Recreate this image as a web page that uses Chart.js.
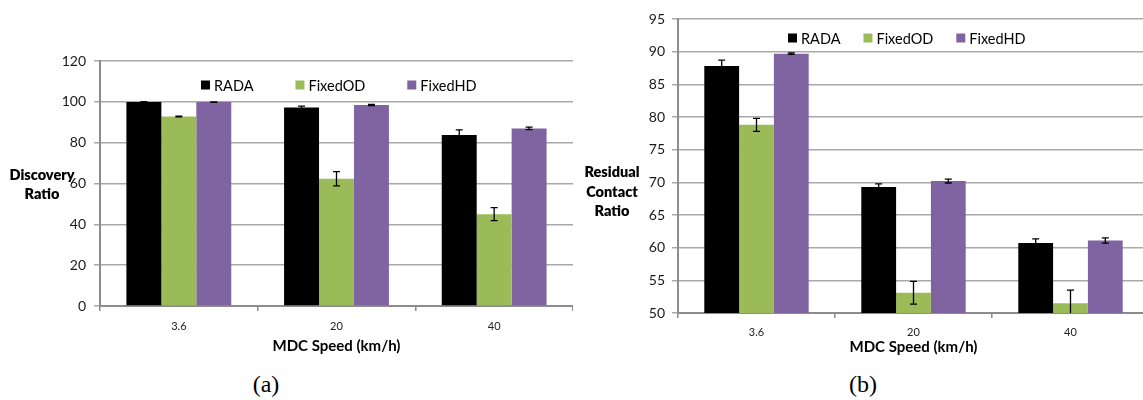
<!DOCTYPE html>
<html>
<head>
<meta charset="utf-8">
<title>MDC speed comparison</title>
<script src="https://cdn.jsdelivr.net/npm/chart.js@4.4.1/dist/chart.umd.min.js"></script>
<style>
  body {
    margin: 0;
    width: 1143px;
    height: 400px;
    overflow: hidden;
    background: #fff;
    position: relative;
    font-family: Lato, sans-serif;
  }
  canvas { position: absolute; top: 0; }
  .ytitle {
    position: absolute;
    font: 800 14.5px Lato, sans-serif;
    line-height: 19px;
    text-align: center;
    color: #000;
  }
  .caption {
    position: absolute;
    width: 80px;
    text-align: center;
    font: 24px "Liberation Serif", serif;
    line-height: 26px;
    color: #000;
  }
</style>
</head>
<body>
<canvas id="chartA" width="573" height="360" style="left:0"></canvas>
<canvas id="chartB" width="575" height="366" style="left:574px"></canvas>
<div class="ytitle" style="left:2px; top:165px; width:80px">Discovery<br>Ratio</div>
<div class="ytitle" style="left:567px; top:162px; width:90px; line-height:19.5px">Residual<br>Contact<br>Ratio</div>
<div class="caption" style="left:226px; top:371px">(a)</div>
<div class="caption" style="left:823px; top:371px">(b)</div>

<script>
// --- categories and series ---
const speeds = ['3.6', '20', '40'];
const seriesNames = ['RADA', 'FixedOD', 'FixedHD'];

// (a) discovery ratio, with +/- error
const discoveryRada = [99.9, 97.2, 83.8];
const discoveryRadaErr = [0.2, 0.7, 2.5];
const discoveryFixedOD = [92.8, 62.3, 45.0];
const discoveryFixedODErr = [0.2, 3.5, 3.2];
const discoveryFixedHD = [99.9, 98.4, 87.0];
const discoveryFixedHDErr = [0.1, 0.3, 0.6];
const discoveryTicks = [0, 20, 40, 60, 80, 100, 120];

// (b) residual contact ratio, with +/- error
const residualRada = [87.8, 69.3, 60.7];
const residualRadaErr = [0.9, 0.45, 0.65];
const residualFixedOD = [78.8, 53.1, 51.5];
const residualFixedODErr = [1.0, 1.75, 2.0];
const residualFixedHD = [89.7, 70.2, 61.1];
const residualFixedHDErr = [0.1, 0.3, 0.4];
const residualTicks = [50, 55, 60, 65, 70, 75, 80, 85, 90, 95];

const barColors = ['#000000', '#9bbb59', '#8064a2'];
const axisGray = '#8c8c8c';
const gridGray = '#a9a9a9';

Chart.defaults.font.family = 'Lato, sans-serif';

// error bars: vertical whisker with caps, clipped to the plot area
const errorBars = {
  id: 'errorBars',
  afterDatasetsDraw(chart) {
    const { ctx, chartArea, scales: { y } } = chart;
    ctx.save();
    ctx.beginPath();
    ctx.rect(chartArea.left, chartArea.top, chartArea.right - chartArea.left, chartArea.bottom - chartArea.top);
    ctx.clip();
    ctx.strokeStyle = '#000';
    ctx.lineWidth = 1.3;
    chart.data.datasets.forEach((ds, i) => {
      chart.getDatasetMeta(i).data.forEach((bar, j) => {
        const v = ds.data[j];
        const e = ds.errors[j];
        const yHi = y.getPixelForValue(v + e);
        const yLo = y.getPixelForValue(v - e);
        ctx.beginPath();
        ctx.moveTo(bar.x, yHi); ctx.lineTo(bar.x, yLo);
        ctx.moveTo(bar.x - 3.5, yHi); ctx.lineTo(bar.x + 3.5, yHi);
        ctx.moveTo(bar.x - 3.5, yLo); ctx.lineTo(bar.x + 3.5, yLo);
        ctx.stroke();
      });
    });
    ctx.restore();
  }
};

// legend drawn as one row inside the top of the plot
const inlineLegend = {
  id: 'inlineLegend',
  afterDraw(chart, args, opts) {
    const { ctx } = chart;
    ctx.save();
    ctx.font = '14.5px Lato, sans-serif';
    ctx.textBaseline = 'middle';
    let x = opts.x;
    chart.data.datasets.forEach(ds => {
      ctx.fillStyle = ds.backgroundColor;
      ctx.fillRect(x, opts.y - 4.5, 9, 9);
      ctx.fillStyle = '#000';
      ctx.fillText(ds.label, x + 13, opts.y + 1);
      x += 13 + ctx.measureText(ds.label).width + opts.gap;
    });
    ctx.restore();
  }
};

function makeDatasets(values, errors) {
  return seriesNames.map((name, i) => ({
    label: name,
    data: values[i],
    errors: errors[i],
    backgroundColor: barColors[i],
    borderWidth: 0,
    categoryPercentage: 0.665,
    barPercentage: 1
  }));
}

function makeChart(canvas, cfg) {
  return new Chart(canvas, {
    type: 'bar',
    data: { labels: speeds, datasets: makeDatasets(cfg.values, cfg.errors) },
    plugins: [errorBars, inlineLegend],
    options: {
      responsive: false,
      animation: false,
      layout: { padding: { top: cfg.top, left: 0, right: 0, bottom: 0 } },
      plugins: {
        legend: { display: false },
        tooltip: { enabled: false },
        inlineLegend: cfg.legend
      },
      scales: {
        x: {
          grid: { drawOnChartArea: false, tickLength: 5, color: axisGray, lineWidth: 1.5, offset: true },
          border: { color: axisGray, width: 2 },
          ticks: { font: { size: 11 }, color: '#222', padding: cfg.xTickPad },
          title: {
            display: true,
            text: 'MDC Speed (km/h)',
            font: { size: 15, weight: 'bold' },
            color: '#000',
            padding: { top: 0, bottom: cfg.titlePad }
          },
          afterFit: s => { s.height = cfg.xHeight; }
        },
        y: {
          min: cfg.ticks[0],
          max: cfg.ticks[cfg.ticks.length - 1],
          afterBuildTicks: s => { s.ticks = cfg.ticks.map(v => ({ value: v })); },
          ticks: { font: { size: 14 }, color: '#1a1a1a', padding: cfg.yTickPad },
          grid: { color: gridGray, lineWidth: 1.5, tickLength: 6 },
          border: { color: axisGray, width: 2 },
          afterFit: s => { s.width = cfg.yWidth; }
        }
      }
    }
  });
}

makeChart(document.getElementById('chartA'), {
  values: [discoveryRada, discoveryFixedOD, discoveryFixedHD],
  errors: [discoveryRadaErr, discoveryFixedODErr, discoveryFixedHDErr],
  ticks: discoveryTicks,
  top: 61,
  yWidth: 100,
  xHeight: 54,
  xTickPad: 9,
  yTickPad: 8,
  titlePad: 5,
  legend: { x: 201, y: 85, gap: 42 }
});

makeChart(document.getElementById('chartB'), {
  values: [residualRada, residualFixedOD, residualFixedHD],
  errors: [residualRadaErr, residualFixedODErr, residualFixedHDErr],
  ticks: residualTicks,
  top: 19,
  yWidth: 104,
  xHeight: 53,
  xTickPad: 8,
  yTickPad: 7,
  titlePad: 10,
  legend: { x: 214, y: 38, gap: 23 }
});
</script>
</body>
</html>
